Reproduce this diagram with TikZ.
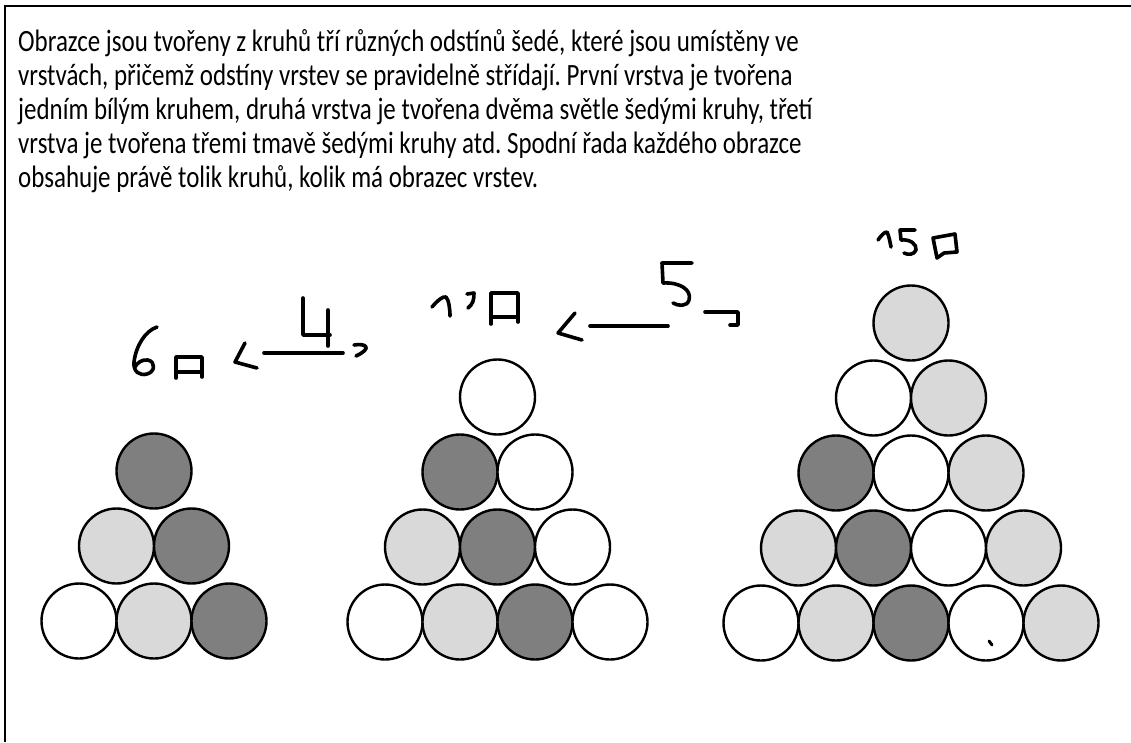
\documentclass[tikz,border=0pt]{standalone}
\usepackage{fontspec}
\setmainfont{Carlito}
\frenchspacing
\definecolor{dk}{HTML}{7F7F7F}
\definecolor{lt}{HTML}{D9D9D9}
\newcommand{\narrowtext}[1]{\scalebox{0.805}[1]{#1}}
\tikzset{
  ball/.style={circle, draw=black, line width=2.4pt, minimum size=75pt, inner sep=0pt},
  cW/.style={ball, fill=white},
  cL/.style={ball, fill=lt},
  cD/.style={ball, fill=dk},
  txt/.style={anchor=base west, inner sep=0pt, font=\fontsize{31}{34}\selectfont},
  hand/.style={line width=3.6pt, line cap=round, line join=round, black},
  frame/.style={line width=2pt, black}
}
\begin{document}
\begin{tikzpicture}[x=1pt,y=-1pt]
\useasboundingbox (0,0) rectangle (1131,742);
\fill[white] (0,0) rectangle (1131,742);
% frame (left and top edges visible)
\draw[frame] (5,742) -- (5,6) -- (1131,6);
% text
\node[txt] (t1) at (18,51) {\narrowtext{Obrazce jsou tvořeny z kruhů tří různých odstínů šedé, které jsou umístěny ve}};
\node[txt] (t2) at (18,85) {\narrowtext{vrstvách, přičemž odstíny vrstev se pravidelně střídají. První vrstva je tvořena}};
\node[txt] (t3) at (18,119) {\narrowtext{jedním bílým kruhem, druhá vrstva je tvořena dvěma světle šedými kruhy, třetí}};
\node[txt] (t4) at (18,153) {\narrowtext{vrstva je tvořena třemi tmavě šedými kruhy atd. Spodní řada každého obrazce}};
\node[txt] (t5) at (18,187) {\narrowtext{obsahuje právě tolik kruhů, kolik má obrazec vrstev.}};
% figure 1
\node[cD] (a11) at (154,471) {};
\node[cL] (a21) at (116.5,546) {};
\node[cD] (a22) at (191.5,546) {};
\node[cW] (a31) at (79,621) {};
\node[cL] (a32) at (154,621) {};
\node[cD] (a33) at (229,621) {};
% figure 2
\node[cW] (b11) at (497.5,397) {};
\node[cD] (b21) at (460,472) {};
\node[cW] (b22) at (535,472) {};
\node[cL] (b31) at (422.5,547) {};
\node[cD] (b32) at (497.5,547) {};
\node[cW] (b33) at (572.5,547) {};
\node[cW] (b41) at (385,622) {};
\node[cL] (b42) at (460,622) {};
\node[cD] (b43) at (535,622) {};
\node[cW] (b44) at (610,622) {};
% figure 3
\node[cL] (c11) at (911,323) {};
\node[cW] (c21) at (873.5,398) {};
\node[cL] (c22) at (948.5,398) {};
\node[cD] (c31) at (836,473) {};
\node[cW] (c32) at (911,473) {};
\node[cL] (c33) at (986,473) {};
\node[cL] (c41) at (798.5,548) {};
\node[cD] (c42) at (873.5,548) {};
\node[cW] (c43) at (948.5,548) {};
\node[cL] (c44) at (1023.5,548) {};
\node[cW] (c51) at (761,623) {};
\node[cL] (c52) at (836,623) {};
\node[cD] (c53) at (911,623) {};
\node[cW] (c54) at (986,623) {};
\node[cL] (c55) at (1061,623) {};
% small mark in c54
\draw[hand, line width=3pt] (989,641) -- (992,645);
% handwriting: 6 box < -- 4 >
\draw[hand] (157,327) .. controls (145,331) and (136,346) .. (134,362) .. controls (133,372) and (140,376) .. (147,374) .. controls (155,372) and (156,362) .. (148,360) .. controls (142,359) and (137,363) .. (135,367);
\draw[hand] (176,378) -- (176,357) -- (202,357) -- (202,377);
\draw[hand] (176,372) -- (202,372);
\draw[hand] (245,343) -- (235,362) -- (257,368);
\draw[hand] (264,353) -- (343,353);
\draw[hand] (303,298) -- (303,335) -- (330,335);
\draw[hand] (328,310) -- (328,346);
\draw[hand] (354,345) .. controls (366,343) and (373,348) .. (356,356);
% handwriting: 12 box < -- 5 ┐
\draw[hand] (432,307) .. controls (438,300) and (443,296) .. (446,297) .. controls (449,300) and (450,310) .. (450,316);
\draw[hand] (467,294) -- (474,293) .. controls (474,300) and (473,304) .. (468,308);
\draw[hand] (491,324) -- (491,293) -- (518,293) -- (518,322);
\draw[hand] (491,317) -- (518,317);
\draw[hand] (575,313) -- (558,333) -- (582,340);
\draw[hand] (590,326) -- (668,326);
\draw[hand] (692,263) -- (662,263) -- (663,283) .. controls (680,282) and (692,290) .. (689,300) .. controls (687,307) and (678,306) .. (673,303);
\draw[hand] (705,312) -- (738,312) -- (738,325) -- (730,325);
% handwriting: 15 box
\draw[hand] (878,240) .. controls (881,236) and (884,232) .. (887,232) .. controls (889,236) and (890,242) .. (891,247);
\draw[hand] (915,230) -- (900,230) -- (901,240) .. controls (910,239) and (917,244) .. (916,250) .. controls (914,255) and (908,255) .. (904,253);
\draw[hand] (933,238) -- (955,234) -- (957,252) -- (944,253) -- (937,258) -- cycle;
\end{tikzpicture}
\end{document}
